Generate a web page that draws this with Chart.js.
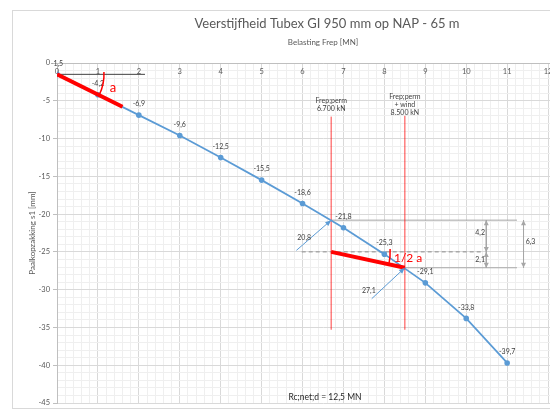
<!DOCTYPE html>
<html>
<head>
<meta charset="utf-8">
<title>Veerstijfheid Tubex GI 950 mm</title>
<script src="https://cdn.jsdelivr.net/npm/chart.js@4.4.1/dist/chart.umd.min.js"></script>
<style>
  html, body { margin: 0; padding: 0; background: #fff; }
  #wrap { width: 550px; height: 415px; overflow: hidden; position: relative; }
  canvas { display: block; }
</style>
</head>
<body>
<div id="wrap"><canvas id="chart" width="654" height="415"></canvas></div>
<script>
// load steps (MN) against pile head settlement s1 (mm)
const loads = [0, 1, 2, 3, 4, 5, 6, 7, 8, 9, 10, 11];
const settlements = [-1.5, -4.2, -6.9, -9.6, -12.5, -15.5, -18.6, -21.8, -25.3, -29.1, -33.8, -39.7];
const xTickLabels = [0, 1, 2, 3, 4, 5, 6, 7, 8, 9, 10, 11, 12, 13];

// construction lines
const frepPerm = 6.7;   // MN
const frepWind = 8.5;   // MN
const sPerm = -20.8;
const sWind = -27.1;
const sMid = -25.0;
const tangentA = [[0, -1.5], [1.6, -5.8]];
const tangentHalfA = [[frepPerm, sMid], [frepWind, sWind]];
const baseLine = [[0, -1.5], [2.15, -1.5]];
const permLine = [[frepPerm, -7.1], [frepPerm, -35.3]];
const windLine = [[frepWind, -7.0], [frepWind, -35.3]];
const levelPerm = [[frepPerm, sPerm], [11.24, sPerm]];
const levelWind = [[frepWind, sWind], [11.24, sWind]];
const levelMid = [[5.98, sMid], [10.42, sMid]];
const dim42 = [[10.49, sPerm], [10.49, sMid]];
const dim21 = [[10.49, sMid], [10.49, sWind]];
const dim63 = [[11.4, sPerm], [11.4, sWind]];
const arrowPerm = [[5.85, -24.8], [frepPerm, sPerm]];
const arrowWind = [[7.69, -31.2], [frepWind, sWind]];

const FONT = 'Lato, "Open Sans", sans-serif';
const BLUE = '#5b9bd5';
const RED = '#ff0000';

const isWhole = (v, step) => Math.abs(v / step - Math.round(v / step)) < 1e-6;
const comma = v => v.toFixed(1).replace('.', ',');

function seg(pts, color, width, extra) {
  return Object.assign({
    data: pts.map(([x, y]) => ({ x, y })),
    showLine: true,
    borderColor: color,
    borderWidth: width,
    pointRadius: 0,
    fill: false,
    order: 2
  }, extra || {});
}

function arrowHead(c, x1, y1, x2, y2, color, len, w) {
  const a = Math.atan2(y2 - y1, x2 - x1);
  c.save();
  c.translate(x2, y2);
  c.rotate(a);
  c.beginPath();
  c.moveTo(0, 0);
  c.lineTo(-len, -w);
  c.lineTo(-len, w);
  c.closePath();
  c.fillStyle = color;
  c.fill();
  c.restore();
}

const overlay = {
  id: 'overlay',
  beforeDraw(chart) {
    const c = chart.ctx;
    c.save();
    c.strokeStyle = '#d9d9d9';
    c.lineWidth = 1;
    c.strokeRect(12.5, 10.5, chart.width - 25, 398);
    c.restore();
  },
  beforeDatasetsDraw(chart) {
    // x labels sit just inside the plot, under the top axis line
    const c = chart.ctx;
    const x = chart.scales.x;
    c.save();
    c.font = '7.5px ' + FONT;
    c.fillStyle = '#595959';
    c.textAlign = 'center';
    c.textBaseline = 'middle';
    xTickLabels.forEach(v => c.fillText(String(v), x.getPixelForValue(v), chart.chartArea.top + 9));
    c.restore();
  },
  afterDatasetsDraw(chart) {
    const c = chart.ctx;
    const px = v => chart.scales.x.getPixelForValue(v);
    const py = v => chart.scales.y.getPixelForValue(v);
    c.save();

    // value labels above the points
    c.font = '7px ' + FONT;
    c.fillStyle = '#404040';
    c.textAlign = 'center';
    c.textBaseline = 'middle';
    loads.forEach((l, i) => c.fillText(comma(settlements[i]), px(l), py(settlements[i]) - 11));

    // arrow heads
    [arrowPerm, arrowWind].forEach(([p, q]) =>
      arrowHead(c, px(p[0]), py(p[1]), px(q[0]), py(q[1]), BLUE, 6, 2.5));
    [dim42, dim21, dim63].forEach(([p, q]) => {
      arrowHead(c, px(p[0]), py(p[1]), px(q[0]), py(q[1]), '#a6a6a6', 5, 2.5);
      arrowHead(c, px(q[0]), py(q[1]), px(p[0]), py(p[1]), '#a6a6a6', 5, 2.5);
    });

    // angle arcs
    c.strokeStyle = RED;
    c.lineWidth = 1.5;
    const [a0, a1] = tangentA;
    const angA = Math.atan2(py(a1[1]) - py(a0[1]), px(a1[0]) - px(a0[0]));
    c.beginPath();
    c.arc(px(a0[0]), py(a0[1]), 47, -0.05, angA);
    c.stroke();
    const [b0, b1] = tangentHalfA;
    const angB = Math.atan2(py(b1[1]) - py(b0[1]), px(b1[0]) - px(b0[0]));
    c.beginPath();
    c.arc(px(b0[0]), py(b0[1]), 59, -0.05, angB);
    c.stroke();

    c.fillStyle = RED;
    c.font = '13px ' + FONT;
    c.fillText('a', px(1.37), py(-3.27));
    c.font = '12px ' + FONT;
    c.fillText('1/2 a', px(8.58), py(-25.8));

    // load level captions
    c.fillStyle = '#404040';
    c.font = '7px ' + FONT;
    c.fillText('Frep;perm', px(frepPerm), py(-5.0));
    c.fillText('6.700 kN', px(frepPerm), py(-6.05));
    c.fillText('Frep;perm', px(frepWind), py(-4.42));
    c.fillText('+ wind', px(frepWind), py(-5.52));
    c.fillText('8.500 kN', px(frepWind), py(-6.62));

    // dimension texts
    c.fillText('4,2', px(10.34), py(-22.45));
    c.fillText('2,1', px(10.34), py(-26.03));
    c.fillText('6,3', px(11.57), py(-23.7));
    c.fillText(comma(-sPerm), px(6.04), py(-23.1));
    c.fillText(comma(-sWind), px(7.62), py(-30.1));

    c.fillStyle = '#262626';
    c.font = '8.5px ' + FONT;
    c.fillText('Rc;net;d = 12,5 MN', px(6.55), py(-44.2));
    c.restore();
  }
};

const datasets = [
  seg(tangentA, RED, 4, { order: 0 }),
  seg(tangentHalfA, RED, 4, { order: 0 }),
  {
    label: 'Paalkopzakking',
    data: loads.map((x, i) => ({ x, y: settlements[i] })),
    showLine: true,
    borderColor: BLUE,
    backgroundColor: BLUE,
    borderWidth: 1.75,
    pointRadius: 2.8,
    pointBorderWidth: 0,
    order: 1
  },
  seg(baseLine, '#404040', 1),
  seg(permLine, 'rgba(255,0,0,0.3)', 1),
  seg(windLine, 'rgba(255,0,0,0.3)', 1),
  seg(levelPerm, '#a6a6a6', 1),
  seg(levelWind, '#a6a6a6', 1),
  seg(levelMid, '#8c8c8c', 1, { borderDash: [4, 3] }),
  seg(dim42, '#a6a6a6', 1),
  seg(dim21, '#a6a6a6', 1),
  seg(dim63, '#a6a6a6', 1),
  seg(arrowPerm, BLUE, 1),
  seg(arrowWind, BLUE, 1)
];

const gridColor = (ctx, step) =>
  ctx.tick && isWhole(ctx.tick.value, step) ? '#d9d9d9' : '#efefef';

new Chart(document.getElementById('chart'), {
  type: 'scatter',
  data: { datasets },
  options: {
    responsive: false,
    animation: false,
    devicePixelRatio: 1,
    layout: { padding: { left: 12, right: 12, top: 0, bottom: 12 } },
    plugins: {
      legend: { display: false },
      tooltip: { enabled: false },
      title: {
        display: true,
        text: 'Veerstijfheid Tubex GI 950 mm op NAP - 65 m',
        color: '#595959',
        font: { family: FONT, size: 13, weight: 'normal' },
        padding: { top: 16, bottom: 4 }
      }
    },
    scales: {
      x: {
        type: 'linear',
        position: 'top',
        min: 0,
        max: 13,
        afterFit: s => { s.height = 27.4; },
        title: {
          display: true,
          text: 'Belasting Frep [MN]',
          color: '#595959',
          font: { family: FONT, size: 8 },
          padding: { top: 2, bottom: 0 }
        },
        ticks: {
          display: false,
          stepSize: 0.2,
          autoSkip: false,
          maxRotation: 0
        },
        grid: { drawTicks: false, color: ctx => gridColor(ctx, 1) },
        border: { color: '#bfbfbf' }
      },
      y: {
        type: 'linear',
        min: -45,
        max: 0,
        afterFit: s => { s.width = 45; },
        title: {
          display: true,
          text: 'Paalkopzakking s1 [mm]',
          color: '#595959',
          font: { family: FONT, size: 8 },
          padding: { top: 16, bottom: 0 }
        },
        ticks: {
          stepSize: 1,
          autoSkip: false,
          padding: 3,
          color: '#595959',
          font: { family: FONT, size: 7.5 },
          callback: v => isWhole(v, 5) ? Math.round(v) : ''
        },
        grid: {
          tickLength: 4,
          color: ctx => gridColor(ctx, 5),
          tickColor: ctx => ctx.tick && isWhole(ctx.tick.value, 5) ? '#bfbfbf' : 'rgba(0,0,0,0)'
        },
        border: { color: '#bfbfbf' }
      },
      yRight: {
        type: 'linear',
        position: 'right',
        display: true,
        afterFit: s => { s.width = 53; },
        ticks: { display: false },
        grid: { display: false, drawTicks: false },
        border: { display: false }
      }
    }
  },
  plugins: [overlay]
});
</script>
</body>
</html>
